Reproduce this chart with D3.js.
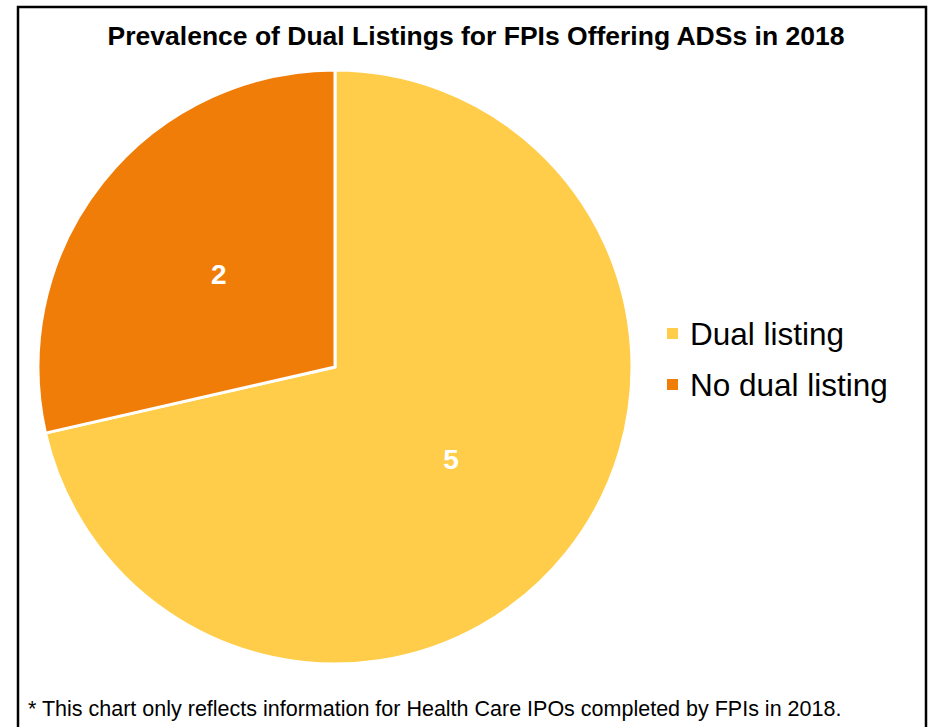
<!DOCTYPE html>
<html>
<head>
<meta charset="utf-8">
<script src="https://cdn.jsdelivr.net/npm/d3@7"></script>
<style>
  body { margin: 0; background: #fff; }
  text { font-family: "Liberation Sans", Arial, sans-serif; }
</style>
</head>
<body>
<script>
// chart data
var categories = ["Dual listing", "No dual listing"];
var values = [5, 2];
var colors = ["#FFCD49", "#F07D08"];

var w = 933, h = 727;
var cx = 335, cy = 367, r = 297;

var svg = d3.select("body").append("svg")
  .attr("width", w)
  .attr("height", h);

// frame
svg.append("rect")
  .attr("x", 18).attr("y", 7)
  .attr("width", 908).attr("height", 740)
  .attr("fill", "#fff")
  .attr("stroke", "#000")
  .attr("stroke-width", 2.5);

svg.append("text")
  .attr("x", 476).attr("y", 45)
  .attr("text-anchor", "middle")
  .attr("font-size", 26.5)
  .attr("font-weight", "bold")
  .text("Prevalence of Dual Listings for FPIs Offering ADSs in 2018");

var pie = d3.pie().sort(null).value(function(d) { return d; });
var arc = d3.arc().innerRadius(0).outerRadius(r);

var g = svg.append("g").attr("transform", "translate(" + cx + "," + cy + ")");
var slices = pie(values);

g.selectAll("path")
  .data(slices)
  .enter()
  .append("path")
  .attr("d", arc)
  .attr("fill", function(d, i) { return colors[i]; })
  .attr("stroke", "#fff")
  .attr("stroke-width", 3)
  .attr("stroke-linejoin", "round");

g.selectAll("text.lbl")
  .data(slices)
  .enter()
  .append("text")
  .attr("class", "lbl")
  .attr("transform", function(d) { return "translate(" + arc.centroid(d) + ")"; })
  .attr("dy", "0.35em")
  .attr("text-anchor", "middle")
  .attr("font-size", 28)
  .attr("font-weight", "bold")
  .attr("fill", "#fff")
  .text(function(d) { return d.value; });

// legend
var leg = svg.append("g").attr("transform", "translate(667,334)");
var item = leg.selectAll("g")
  .data(categories)
  .enter()
  .append("g")
  .attr("transform", function(d, i) { return "translate(0," + i * 51 + ")"; });

item.append("rect")
  .attr("x", 0).attr("y", -6)
  .attr("width", 11).attr("height", 11)
  .attr("fill", function(d, i) { return colors[i]; });

item.append("text")
  .attr("x", 23)
  .attr("dy", "0.35em")
  .attr("font-size", 31.5)
  .text(function(d) { return d; });

svg.append("text")
  .attr("x", 28).attr("y", 716)
  .attr("font-size", 21.5)
  .text("* This chart only reflects information for Health Care IPOs completed by FPIs in 2018.");
</script>
</body>
</html>
